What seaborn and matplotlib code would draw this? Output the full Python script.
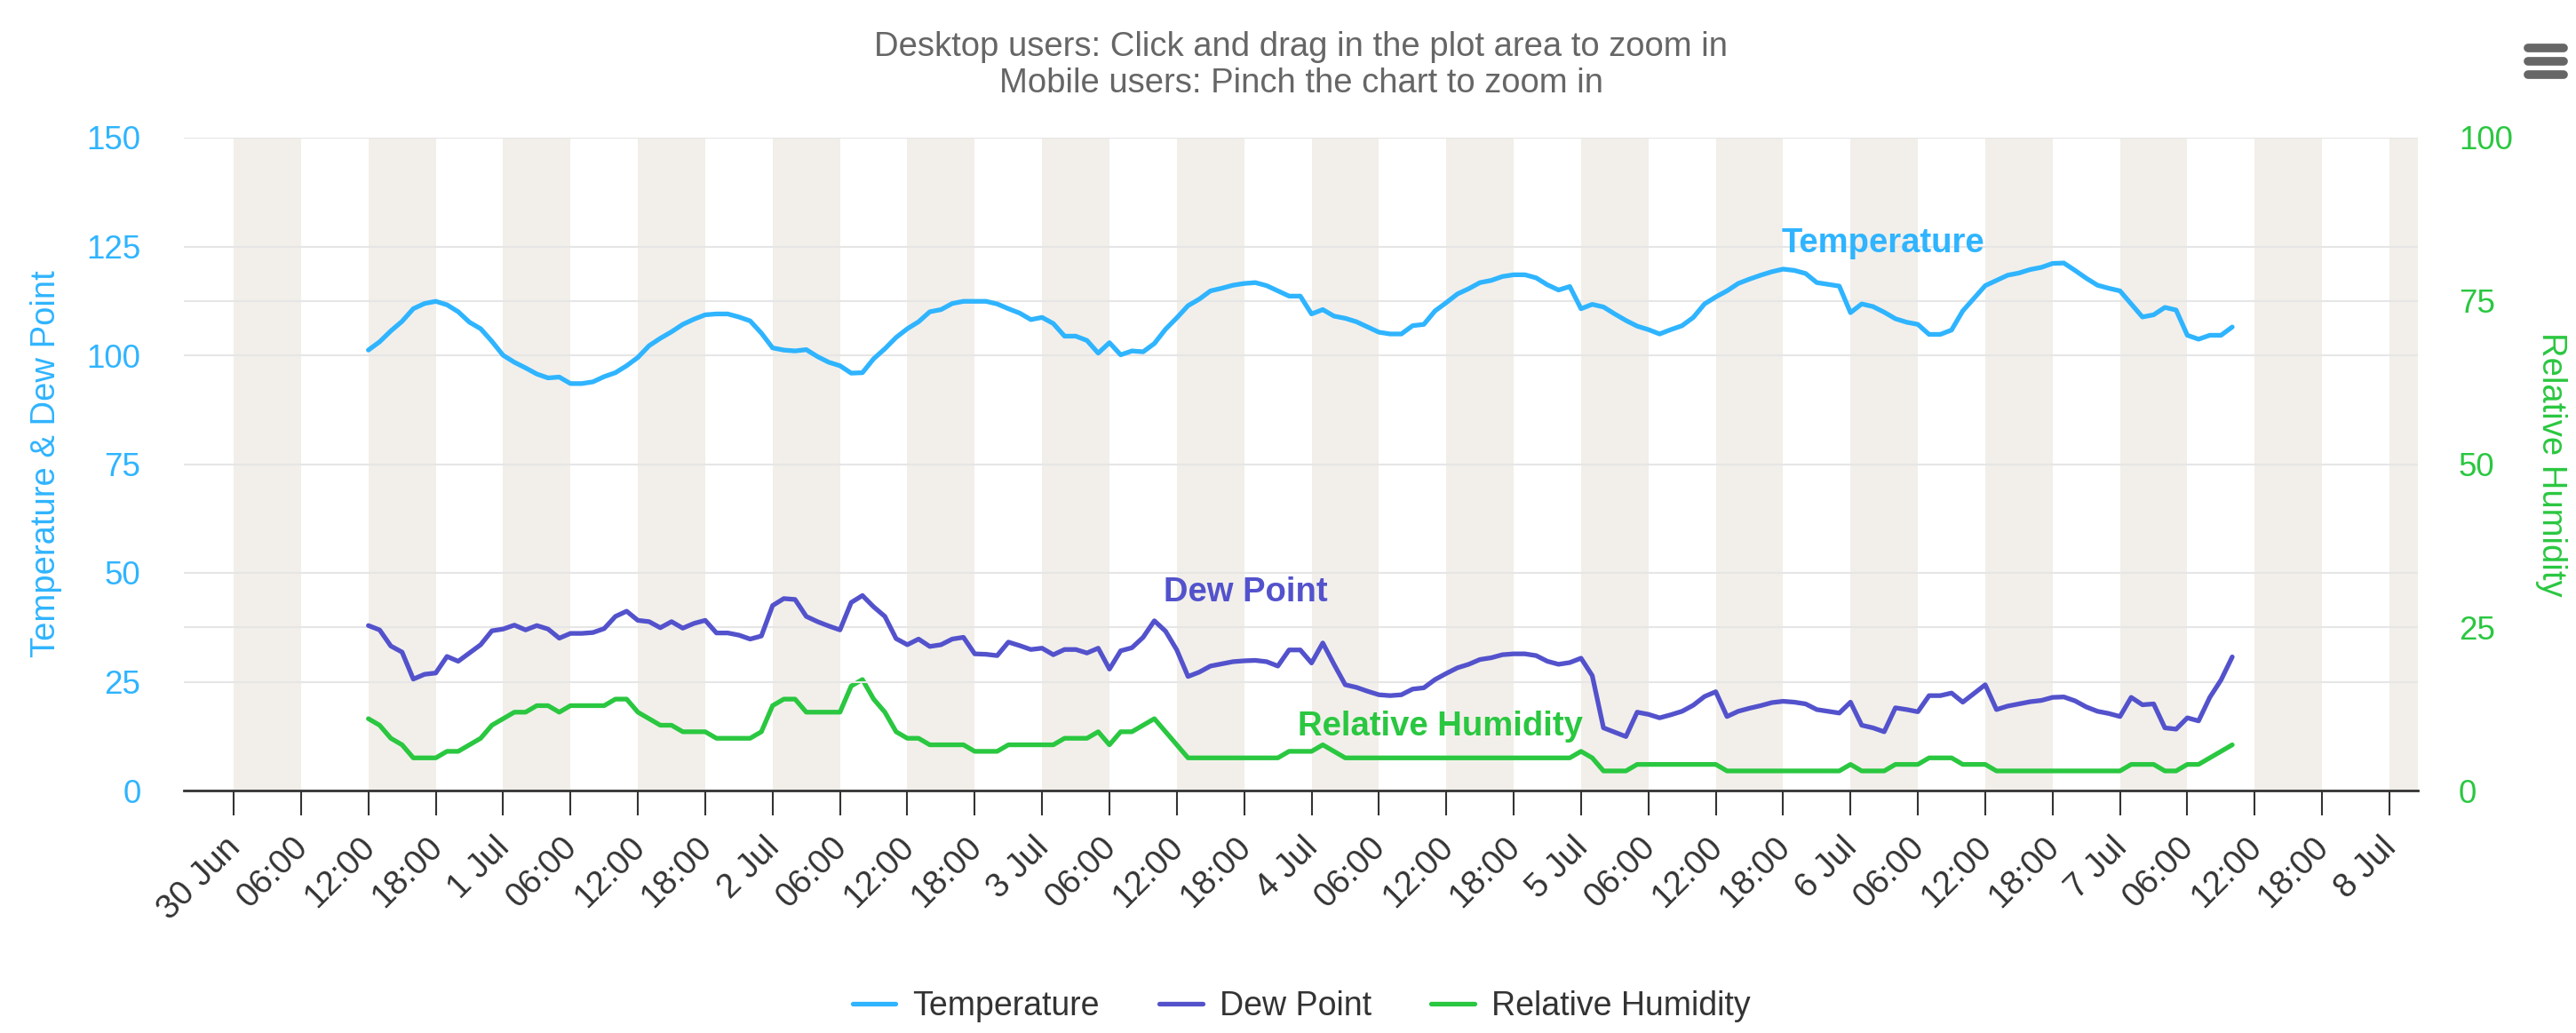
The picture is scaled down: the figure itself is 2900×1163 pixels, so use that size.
import numpy as np
import pandas as pd
import matplotlib
matplotlib.use("Agg")
import matplotlib.pyplot as plt
import matplotlib.dates as mdates
import matplotlib.transforms as mtransforms
from matplotlib.lines import Line2D
import seaborn as sns

# ---------------- data (hourly readings) ----------------
start_time = "2024-06-30 12:00"

temperature = [
    101.2, 103.1, 105.6, 107.8, 110.7, 111.9, 112.4, 111.6, 110.0, 107.6,
    106.1, 103.2, 100.0, 98.4, 97.1, 95.7, 94.8, 95.0, 93.5, 93.5,
    93.9, 95.1, 96.0, 97.6, 99.5, 102.2, 103.9, 105.4, 107.1, 108.3,
    109.3, 109.5, 109.5, 108.8, 107.9, 105.1, 101.7, 101.2, 101.0, 101.3,
    99.7, 98.4, 97.6, 95.9, 96.0, 99.2, 101.5, 104.1, 106.1, 107.7,
    110.0, 110.5, 111.9, 112.4, 112.4, 112.4, 111.8, 110.7, 109.7, 108.2,
    108.7, 107.3, 104.4, 104.4, 103.4, 100.5, 102.9, 100.1, 101.0, 100.8,
    102.7, 106.0, 108.6, 111.4, 112.9, 114.8, 115.4, 116.1, 116.5, 116.7,
    116.0, 114.8, 113.6, 113.6, 109.5, 110.5, 109.0, 108.5, 107.7, 106.5,
    105.3, 104.9, 104.9, 106.8, 107.1, 110.2, 112.1, 114.1, 115.3, 116.7,
    117.2, 118.1, 118.5, 118.5, 117.8, 116.2, 115.0, 115.8, 110.7, 111.7,
    111.1, 109.5, 108.0, 106.7, 105.9, 104.9, 105.9, 106.8, 108.7, 111.8,
    113.4, 114.8, 116.5, 117.5, 118.4, 119.2, 119.8, 119.5, 118.8, 116.7,
    116.3, 115.9, 109.8, 111.8, 111.2, 109.9, 108.4, 107.6, 107.1, 104.8,
    104.8, 105.8, 110.2, 113.1, 116.0, 117.2, 118.4, 118.9, 119.7, 120.2,
    121.1, 121.2, 119.5, 117.7, 116.1, 115.4, 114.8, 111.8, 108.8, 109.3,
    111.0, 110.4, 104.6, 103.7, 104.6, 104.6, 106.5,
]

dew_point = [
    37.9, 36.9, 33.2, 31.8, 25.6, 26.7, 27.0, 30.8, 29.7, 31.6,
    33.5, 36.7, 37.1, 38.0, 36.9, 37.9, 37.1, 35.0, 36.1, 36.1,
    36.3, 37.2, 40.0, 41.2, 39.1, 38.8, 37.4, 38.8, 37.3, 38.4,
    39.1, 36.2, 36.2, 35.7, 34.8, 35.5, 42.5, 44.1, 43.9, 40.0,
    38.8, 37.8, 36.9, 43.2, 44.8, 42.2, 40.0, 34.9, 33.5, 34.8,
    33.1, 33.5, 34.8, 35.2, 31.4, 31.3, 31.0, 34.1, 33.3, 32.4,
    32.7, 31.2, 32.4, 32.4, 31.6, 32.7, 27.9, 32.1, 32.8, 35.2,
    39.0, 36.6, 32.3, 26.2, 27.2, 28.6, 29.1, 29.6, 29.8, 29.9,
    29.6, 28.6, 32.3, 32.3, 29.3, 33.9, 29.0, 24.3, 23.7, 22.8,
    22.0, 21.8, 22.0, 23.3, 23.6, 25.5, 26.9, 28.2, 29.0, 30.1,
    30.5, 31.2, 31.4, 31.4, 31.0, 29.7, 29.0, 29.4, 30.4, 26.4,
    14.4, 13.4, 12.4, 18.0, 17.5, 16.7, 17.4, 18.2, 19.6, 21.6,
    22.7, 17.0, 18.2, 18.9, 19.5, 20.2, 20.5, 20.3, 19.9, 18.6,
    18.2, 17.8, 20.3, 15.0, 14.4, 13.5, 19.0, 18.6, 18.1, 21.8,
    21.8, 22.4, 20.3, 22.3, 24.3, 18.6, 19.4, 19.9, 20.4, 20.7,
    21.4, 21.5, 20.6, 19.2, 18.2, 17.7, 17.0, 21.4, 19.7, 19.9,
    14.4, 14.1, 16.7, 16.0, 21.4, 25.4, 30.7,
]

humidity = [
    11, 10, 8, 7, 5, 5, 5, 6, 6, 7,
    8, 10, 11, 12, 12, 13, 13, 12, 13, 13,
    13, 13, 14, 14, 12, 11, 10, 10, 9, 9,
    9, 8, 8, 8, 8, 9, 13, 14, 14, 12,
    12, 12, 12, 16, 17, 14, 12, 9, 8, 8,
    7, 7, 7, 7, 6, 6, 6, 7, 7, 7,
    7, 7, 8, 8, 8, 9, 7, 9, 9, 10,
    11, 9, 7, 5, 5, 5, 5, 5, 5, 5,
    5, 5, 6, 6, 6, 7, 6, 5, 5, 5,
    5, 5, 5, 5, 5, 5, 5, 5, 5, 5,
    5, 5, 5, 5, 5, 5, 5, 5, 6, 5,
    3, 3, 3, 4, 4, 4, 4, 4, 4, 4,
    4, 3, 3, 3, 3, 3, 3, 3, 3, 3,
    3, 3, 4, 3, 3, 3, 4, 4, 4, 5,
    5, 5, 4, 4, 4, 3, 3, 3, 3, 3,
    3, 3, 3, 3, 3, 3, 3, 4, 4, 4,
    3, 3, 4, 4, 5, 6, 7,
]

series_names = ["Temperature", "Dew Point", "Relative Humidity"]
left_ticks = [0, 25, 50, 75, 100, 125, 150]
right_ticks = [0, 25, 50, 75, 100]
tick_labels = [
    "30 Jun", "06:00", "12:00", "18:00",
    "1 Jul", "06:00", "12:00", "18:00",
    "2 Jul", "06:00", "12:00", "18:00",
    "3 Jul", "06:00", "12:00", "18:00",
    "4 Jul", "06:00", "12:00", "18:00",
    "5 Jul", "06:00", "12:00", "18:00",
    "6 Jul", "06:00", "12:00", "18:00",
    "7 Jul", "06:00", "12:00", "18:00",
    "8 Jul",
]
title_lines = ["Desktop users: Click and drag in the plot area to zoom in",
               "Mobile users: Pinch the chart to zoom in"]

# ---------------- styling ----------------
sns.set_style("white")
plt.rcParams['font.family'] = ['Liberation Sans', 'DejaVu Sans']

TEMP_C = "#2fb4ff"
DEW_C = "#5352cc"
RH_C = "#2ac740"
GRID_C = "#e6e6e6"
BAND_C = "#f2efea"
TEXT_C = "#333333"
FS = 27.5
FS_X = 27.5
FS_Y = 26.5
FS_LEG = 27
LW = 3.8

times = pd.date_range(start_time, periods=len(temperature), freq="h")
df = pd.DataFrame({"time": times, "Temperature": temperature,
                   "Dew Point": dew_point, "Relative Humidity": humidity})

W, H = 2900, 1163
fig = plt.figure(figsize=(W / 100, H / 100), dpi=100)
L, R, T, B = 207, 2722, 155, 890
rect = [L / W, 1 - B / H, (R - L) / W, (B - T) / H]
ax = fig.add_axes(rect)
ax2 = ax.twinx()
ax.set_zorder(2)
ax2.set_zorder(1)
ax.patch.set_visible(False)
ax2.patch.set_facecolor("white")

x_start = pd.Timestamp("2024-06-29 19:34")
x_end = pd.Timestamp("2024-07-08 02:32")

# alternating 6-hour bands
for day in pd.date_range("2024-06-30", "2024-07-08", freq="D"):
    for h0 in (0, 12):
        s = day + pd.Timedelta(hours=h0)
        e = s + pd.Timedelta(hours=6)
        ax2.axvspan(mdates.date2num(s), mdates.date2num(min(e, x_end)),
                    color=BAND_C, lw=0, zorder=0)

line_kw = dict(linewidth=LW, solid_joinstyle="round", solid_capstyle="round")
sns.lineplot(data=df, x="time", y="Relative Humidity", ax=ax2, color=RH_C, **line_kw)
sns.lineplot(data=df, x="time", y="Dew Point", ax=ax, color=DEW_C, **line_kw)
sns.lineplot(data=df, x="time", y="Temperature", ax=ax, color=TEMP_C, **line_kw)

ax.set_xlim(mdates.date2num(x_start), mdates.date2num(x_end))
ax.set_ylim(0, 150)
ax2.set_ylim(0, 100)
ax.set_yticks(left_ticks)
ax.set_yticklabels([str(v) for v in left_ticks])
ax2.set_yticks(right_ticks)
ax2.set_yticklabels([str(v) for v in right_ticks])

for a in (ax, ax2):
    a.yaxis.grid(True, color=GRID_C, lw=1.5)
    a.xaxis.grid(False)
    a.set_axisbelow(True)
    for sp in a.spines.values():
        sp.set_visible(False)
ax.spines["bottom"].set_visible(True)
ax.spines["bottom"].set_color(TEXT_C)
ax.spines["bottom"].set_linewidth(2)

ax.tick_params(axis="y", left=False, length=0, pad=35, labelcolor=TEMP_C, labelsize=FS_Y)
ax2.tick_params(axis="y", right=False, length=0, pad=33, labelcolor=RH_C, labelsize=FS_Y)

tick_times = pd.date_range("2024-06-30", "2024-07-08", freq="6h")
ax.set_xticks(mdates.date2num(tick_times))
ax.set_xticklabels(tick_labels, rotation=45, ha="right", va="center",
                   rotation_mode="anchor", color=TEXT_C, fontsize=FS_X)
ax.tick_params(axis="x", bottom=True, direction="out", length=20, width=1.5,
               color=TEXT_C, pad=0)
offset = mtransforms.ScaledTranslation(2 / 100, -31 / 100, fig.dpi_scale_trans)
for lab in ax.get_xticklabels():
    lab.set_transform(lab.get_transform() + offset)

ax.set_xlabel("")
ax.set_ylabel("Temperature & Dew Point", color=TEMP_C, fontsize=FS, va="center")
ax.yaxis.set_label_coords((52 - L) / (R - L), 0.5)
ax2.set_ylabel("Relative Humidity", color=RH_C, fontsize=FS, rotation=270, va="center")
ax2.yaxis.set_label_coords((2872 - L) / (R - L), 0.5)

# series labels
ax.text(mdates.date2num(pd.Timestamp("2024-07-06 02:55")), 125.7, "Temperature",
        color=TEMP_C, fontsize=FS, fontweight="bold", ha="center", va="center", zorder=5)
ax.text(mdates.date2num(pd.Timestamp("2024-07-03 18:06")), 45.5, "Dew Point",
        color=DEW_C, fontsize=FS, fontweight="bold", ha="center", va="center", zorder=5)
ax.text(mdates.date2num(pd.Timestamp("2024-07-04 11:26")), 14.7, "Relative Humidity",
        color=RH_C, fontsize=FS, fontweight="bold", ha="center", va="center", zorder=5)

# title
fig.text(1465 / W, 1 - 53 / H, title_lines[0], ha="center", va="center",
         color="#666666", fontsize=FS)
fig.text(1465 / W, 1 - 94 / H, title_lines[1], ha="center", va="center",
         color="#666666", fontsize=FS)

# legend
handles = [Line2D([], [], color=c, lw=LW, solid_capstyle="round")
           for c in (TEMP_C, DEW_C, RH_C)]
fig.legend(handles, series_names, loc="center",
           bbox_to_anchor=(1465 / W, 1 - 1133 / H), ncol=3, frameon=False,
           fontsize=FS_LEG, handlelength=1.3, handletextpad=0.5, columnspacing=1.8,
           labelcolor=TEXT_C)

# menu icon
for yy in (54, 69, 84):
    fig.add_artist(Line2D([2846 / W, 2886 / W], [1 - yy / H] * 2,
                          transform=fig.transFigure, color="#666666", lw=7,
                          solid_capstyle="round"))

fig.savefig("out.png", dpi=100)
